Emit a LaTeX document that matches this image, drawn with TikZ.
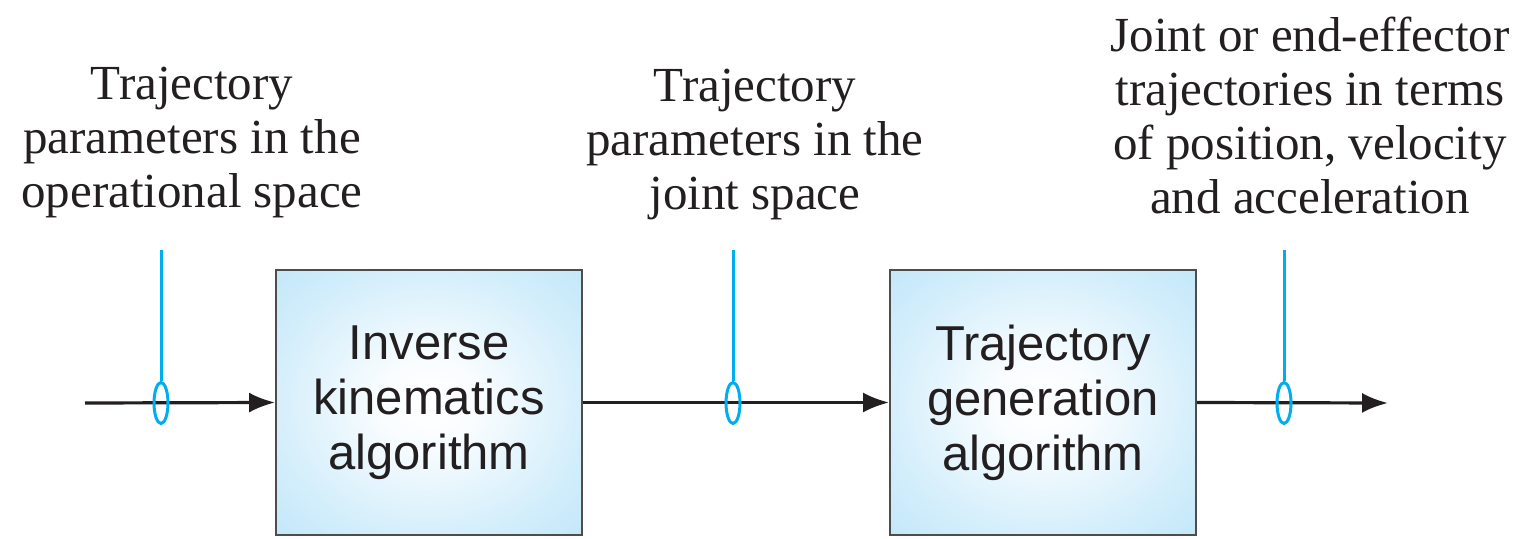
\documentclass[tikz,border=0pt]{standalone}
\usepackage{fontspec}
\setmainfont{Liberation Serif}
\setsansfont{Liberation Sans}
\usetikzlibrary{arrows.meta,shapes.geometric}
\definecolor{cyanline}{HTML}{00AEEF}
\definecolor{inkblack}{HTML}{231F20}
\definecolor{boxedge}{HTML}{86D0F4}
\pgfdeclareradialshading{boxglow}{\pgfpoint{0bp}{0bp}}{%
  color(0bp)=(white);
  color(8bp)=(white!95!boxedge);
  color(25bp)=(white!65!boxedge);
  color(50bp)=(white!30!boxedge);
  color(71bp)=(boxedge)}
\tikzset{
  blockbox/.style={draw=inkblack!80, line width=0.9pt, minimum width=153pt, minimum height=132.5pt,
    inner sep=0pt, align=center, font=\sffamily\fontsize{24.5}{27.5}\selectfont, text=inkblack,
    shading=boxglow},
  flow/.style={draw=inkblack, line width=1.6pt, -{Latex[length=13pt,width=10pt]}},
  tap/.style={draw=cyanline, line width=1.5pt},
  ring/.style={draw=cyanline, line width=1.5pt, ellipse, minimum width=7pt, minimum height=20.5pt, inner sep=0pt},
  label/.style={align=center, font=\fontsize{24.5}{27}\selectfont, text=inkblack, inner sep=0pt}
}
\begin{document}
\begin{tikzpicture}[x=0.5pt,y=-0.5pt]
\useasboundingbox (0,0) rectangle (1518,539);
\node[blockbox] (ik) at (429,402.5) {Inverse\\kinematics\\algorithm};
\node[blockbox] (tg) at (1043,402.5) {Trajectory\\generation\\algorithm};
\coordinate (in) at (85,403);
\coordinate (out) at (1388,403);
\draw[flow] (in) -- (ik.west);
\draw[flow] (ik.east) -- (tg.west);
\draw[flow] (tg.east) -- (out);
\node[ring] (r1) at (161,403) {};
\node[ring] (r2) at (733,403) {};
\node[ring] (r3) at (1284,403) {};
\coordinate (t1) at (161,250);
\coordinate (t2) at (733,250);
\coordinate (t3) at (1284,250);
\draw[tap] (t1) -- (r1.north);
\draw[tap] (t2) -- (r2.north);
\draw[tap] (t3) -- (r3.north);
\node[label] (l1) at (192,142) {Trajectory\\parameters in the\\operational space};
\node[label] (l2) at (755,144) {Trajectory\\parameters in the\\joint space};
\node[label] (l3) at (1310,115) {Joint or end-effector\\trajectories in terms\\of position, velocity\\and acceleration};
\end{tikzpicture}
\end{document}
